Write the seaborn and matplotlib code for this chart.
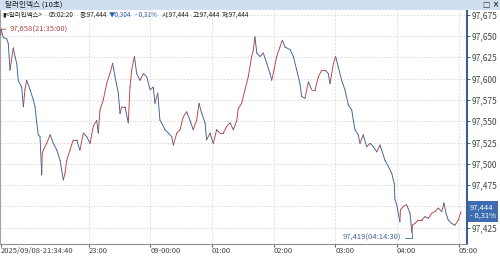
import numpy as np
import pandas as pd
import matplotlib
matplotlib.use("Agg")
import matplotlib.pyplot as plt
import seaborn as sns
from matplotlib.patches import Rectangle
from matplotlib.transforms import blended_transform_factory

# ---------------- data (10-second chart, sampled) ----------------
times = [
    "21:34:40", "21:35:00", "21:37:10", "21:40:20", "21:42:00", "21:43:40", "21:46:50", "21:48:30",
    "21:50:10", "21:51:40", "21:55:00", "21:56:40", "21:58:10", "21:59:50", "22:03:10", "22:06:20",
    "22:08:00", "22:09:40", "22:11:10", "22:12:50", "22:14:30", "22:15:00", "22:16:00", "22:19:20",
    "22:22:40", "22:25:50", "22:29:10", "22:32:20", "22:33:50", "22:35:30", "22:37:10", "22:38:50",
    "22:42:00", "22:45:10", "22:48:30", "22:51:40", "22:55:00", "22:58:10", "23:01:30", "23:04:40",
    "23:08:00", "23:09:30", "23:11:10", "23:14:20", "23:17:40", "23:20:50", "23:23:30", "23:25:50",
    "23:29:00", "23:30:40", "23:32:20", "23:35:30", "23:38:40", "23:40:20", "23:42:00", "23:44:40",
    "23:46:50", "23:50:10", "23:53:20", "23:56:40", "23:59:50", "00:03:00", "00:04:40", "00:07:20",
    "00:09:30", "00:11:10", "00:14:20", "00:17:40", "00:20:50", "00:22:30", "00:25:50", "00:29:00",
    "00:32:10", "00:35:30", "00:38:40", "00:41:50", "00:45:10", "00:47:30", "00:50:10", "00:53:20",
    "00:54:50", "00:58:10", "01:01:20", "01:04:40", "01:07:50", "01:11:10", "01:14:20", "01:17:40",
    "01:20:50", "01:24:10", "01:25:40", "01:29:00", "01:32:10", "01:35:20", "01:38:40", "01:40:20",
    "01:41:50", "01:43:40", "01:46:50", "01:50:00", "01:53:20", "01:56:30", "01:58:10", "02:00:20",
    "02:03:00", "02:06:10", "02:08:30", "02:11:10", "02:16:00", "02:19:10", "02:22:30", "02:25:40",
    "02:27:20", "02:30:30", "02:33:50", "02:37:00", "02:40:20", "02:43:30", "02:46:50", "02:50:00",
    "02:53:10", "02:54:50", "02:58:10", "03:00:20", "03:02:50", "03:06:10", "03:09:20", "03:12:40",
    "03:16:00", "03:17:30", "03:19:10", "03:22:20", "03:24:00", "03:27:10", "03:30:30", "03:33:50",
    "03:37:00", "03:40:20", "03:43:30", "03:45:10", "03:48:20", "03:51:30", "03:54:50", "03:57:20",
    "03:58:00", "03:59:40", "04:02:50", "04:03:20", "04:06:10", "04:09:20", "04:12:40", "04:14:30",
    "04:15:00", "04:17:30", "04:20:40", "04:24:00", "04:27:10", "04:30:30", "04:33:50", "04:37:00",
    "04:40:10", "04:43:30", "04:45:40", "04:47:40", "04:49:50", "04:53:10", "04:56:20", "04:59:40",
    "05:02:20",
]
prices = [
    97651, 97658, 97648, 97647, 97641, 97610, 97636, 97626,
    97618, 97598, 97590, 97567, 97587, 97598, 97587, 97575,
    97567, 97548, 97534, 97532, 97487, 97512, 97516, 97524,
    97534, 97524, 97516, 97504, 97493, 97481, 97489, 97504,
    97516, 97528, 97528, 97516, 97536, 97532, 97524, 97544,
    97551, 97536, 97563, 97575, 97594, 97606, 97618, 97602,
    97583, 97559, 97567, 97567, 97548, 97590, 97610, 97626,
    97606, 97598, 97606, 97602, 97587, 97590, 97571, 97583,
    97551, 97548, 97540, 97536, 97532, 97522, 97536, 97540,
    97555, 97561, 97551, 97540, 97551, 97571, 97559, 97548,
    97528, 97536, 97524, 97540, 97536, 97536, 97544, 97548,
    97540, 97551, 97565, 97571, 97587, 97602, 97626, 97634,
    97649, 97630, 97626, 97630, 97618, 97606, 97598, 97610,
    97626, 97637, 97645, 97637, 97634, 97626, 97610, 97594,
    97579, 97577, 97596, 97587, 97587, 97602, 97610, 97610,
    97606, 97594, 97618, 97626, 97614, 97598, 97587, 97569,
    97563, 97551, 97540, 97534, 97524, 97534, 97520, 97524,
    97520, 97514, 97522, 97516, 97504, 97497, 97489, 97477,
    97458, 97452, 97432, 97446, 97450, 97452, 97442, 97419,
    97428, 97430, 97434, 97434, 97438, 97436, 97442, 97444,
    97448, 97444, 97454, 97442, 97434, 97430, 97428, 97434,
    97444,
]

y_ticks = [97425, 97450, 97475, 97500, 97525, 97550, 97575, 97600, 97625, 97650, 97675]
x_tick_times = ["21:34:40", "23:00:00", "00:00:00", "01:00:00", "02:00:00", "03:00:00", "04:00:00", "05:00:00"]
x_tick_labels = ["2025/09/08-21:34:40", "23:00", "09-00:00", "01:00", "02:00", "03:00", "04:00", "05:00"]

high_time, high_price = "21:35:00", 97658
low_time, low_price = "04:14:30", 97419
last_price = 97444
last_change = "- 0,31%"
info_parts = [
    ("▮<달러인덱스>", 2, "#222222"),
    ("05:02:20", 49, "#222222"),
    ("종:97,444", 80, "#222222"),
    ("▼0,304", 109, "#2f5fb0"),
    ("- 0,31%", 135, "#2f5fb0"),
    ("시:97,444", 162, "#222222"),
    ("고:97,444", 193, "#222222"),
    ("저:97,444", 222, "#222222"),
]


def to_dt(s):
    h = int(s[:2])
    day = "2025-09-08" if h >= 12 else "2025-09-09"
    return pd.Timestamp(f"{day} {s}")


# ---------------- style ----------------
sns.set_theme(style="white")
FONTS = ["Liberation Sans Narrow", "Noto Sans CJK KR", "DejaVu Sans"]
plt.rcParams["font.family"] = FONTS

W, H = 500, 256
fig = plt.figure(figsize=(5.0, 2.56), dpi=100)
fig.patch.set_facecolor("white")

# axes: x 0..467 px, y from 10 px to 244 px (from top)
ax = fig.add_axes([0.0, 12 / H, 467 / W, 234 / H])
ax.set_facecolor("white")

t = [to_dt(s) for s in times]
rows = []
for i in range(1, len(t)):
    d = "up" if prices[i] >= prices[i - 1] else "down"
    rows.append({"t": t[i - 1], "p": prices[i - 1], "seg": i, "dir": d})
    rows.append({"t": t[i], "p": prices[i], "seg": i, "dir": d})
df = pd.DataFrame(rows)

sns.lineplot(data=df, x="t", y="p", units="seg", estimator=None, hue="dir",
             palette={"up": "#c23b3b", "down": "#3b5d96"}, linewidth=0.65,
             legend=False, sort=False, ax=ax, zorder=3)

# limits (pixel-calibrated: 61.7 px per hour, 23:00 at x=88.5)
x0 = pd.Timestamp("2025-09-08 23:00:00")
ppm = 61.7 / 60
ax.set_xlim(x0 - pd.Timedelta(minutes=88.5 / ppm), x0 + pd.Timedelta(minutes=(467 - 88.5) / ppm))
ppu = 21.3 / 25
ax.set_ylim(97650 - (244 - 36) / ppu, 97650 + (36 - 10) / ppu)

# grid
for s in x_tick_times[1:]:
    ax.axvline(to_dt(s), color="#d6d6d6", lw=0.6, ls=(0, (2, 2)), zorder=1)
for v in y_ticks:
    ax.axhline(v, color="#d6d6d6", lw=0.6, ls=(0, (2, 2)), zorder=1)

# ticks
ax.set_xticks([to_dt(s) for s in x_tick_times])
ax.set_xticklabels(x_tick_labels)
for lbl in ax.get_xticklabels():
    lbl.set_ha("left")
ax.tick_params(axis="x", bottom=True, direction="out", length=2, width=0.6, pad=0.5,
               labelsize=5.5, colors="#444444")
ax.yaxis.tick_right()
ax.set_yticks(y_ticks)
# the 97,450 label sits under the last-price badge in the reference
ax.set_yticklabels(["" if abs(v - last_price) < 10 else f"{v:,}" for v in y_ticks])
ax.tick_params(axis="y", right=True, direction="out", length=2, width=0.6, pad=1.5,
               labelsize=6, colors="#444444")
ax.set_xlabel("")
ax.set_ylabel("")

ax.spines["top"].set_visible(False)
ax.spines["left"].set_color("#a0a0a0")
ax.spines["left"].set_linewidth(0.8)
ax.spines["bottom"].set_color("#909090")
ax.spines["bottom"].set_linewidth(0.8)
ax.spines["right"].set_color("#3c5f8e")
ax.spines["right"].set_linewidth(1.5)

# high / low annotations
ax.annotate(f"{high_price:,}({high_time})", xy=(to_dt(high_time), high_price),
            xytext=(6, 0), textcoords="offset points", ha="left", va="center",
            fontsize=5.5, color="#b04848",
            arrowprops=dict(arrowstyle="-", color="#b04848", lw=0.6, shrinkA=0, shrinkB=0),
            zorder=5)
ax.annotate(f"{low_price:,}({low_time})", xy=(to_dt(low_time), low_price),
            xytext=(-7.5, -3.8), textcoords="offset points", ha="right", va="center",
            fontsize=5.5, color="#4a6592",
            arrowprops=dict(arrowstyle="-", color="#4a6592", lw=0.6, shrinkA=0.5, shrinkB=0,
                            connectionstyle="angle,angleA=0,angleB=90,rad=0"),
            annotation_clip=False, zorder=5)

# last-price badge
tr = blended_transform_factory(ax.transAxes, ax.transData)
ax.text(1.006, last_price, f"{last_price:,}\n{last_change}", transform=tr, ha="left",
        va="center", fontsize=5.5, color="white", linespacing=0.95, clip_on=False,
        zorder=10, bbox=dict(boxstyle="square,pad=0.3", fc="#3d6cb0", ec="none"))

# title bar
fig.patches.append(Rectangle((0, 1 - 10 / H), 1, 10 / H, transform=fig.transFigure,
                             facecolor="#cfdff0", edgecolor="none", zorder=0))
fig.text(5 / W, 1 - 5 / H, "달러인덱스 (10초)", ha="left", va="center", fontsize=5.5,
         color="#1a1a1a")
fig.text(483 / W, 1 - 5 / H, "□ ×", ha="left", va="center", fontsize=5.5,
         color="#333333", family=["DejaVu Sans"], weight="bold")

# info line
for txt, xp, col in info_parts:
    fig.text(xp / W, 1 - 15 / H, txt, ha="left", va="center", fontsize=4.6, color=col)

fig.savefig("out.png", dpi=100, facecolor="white")
